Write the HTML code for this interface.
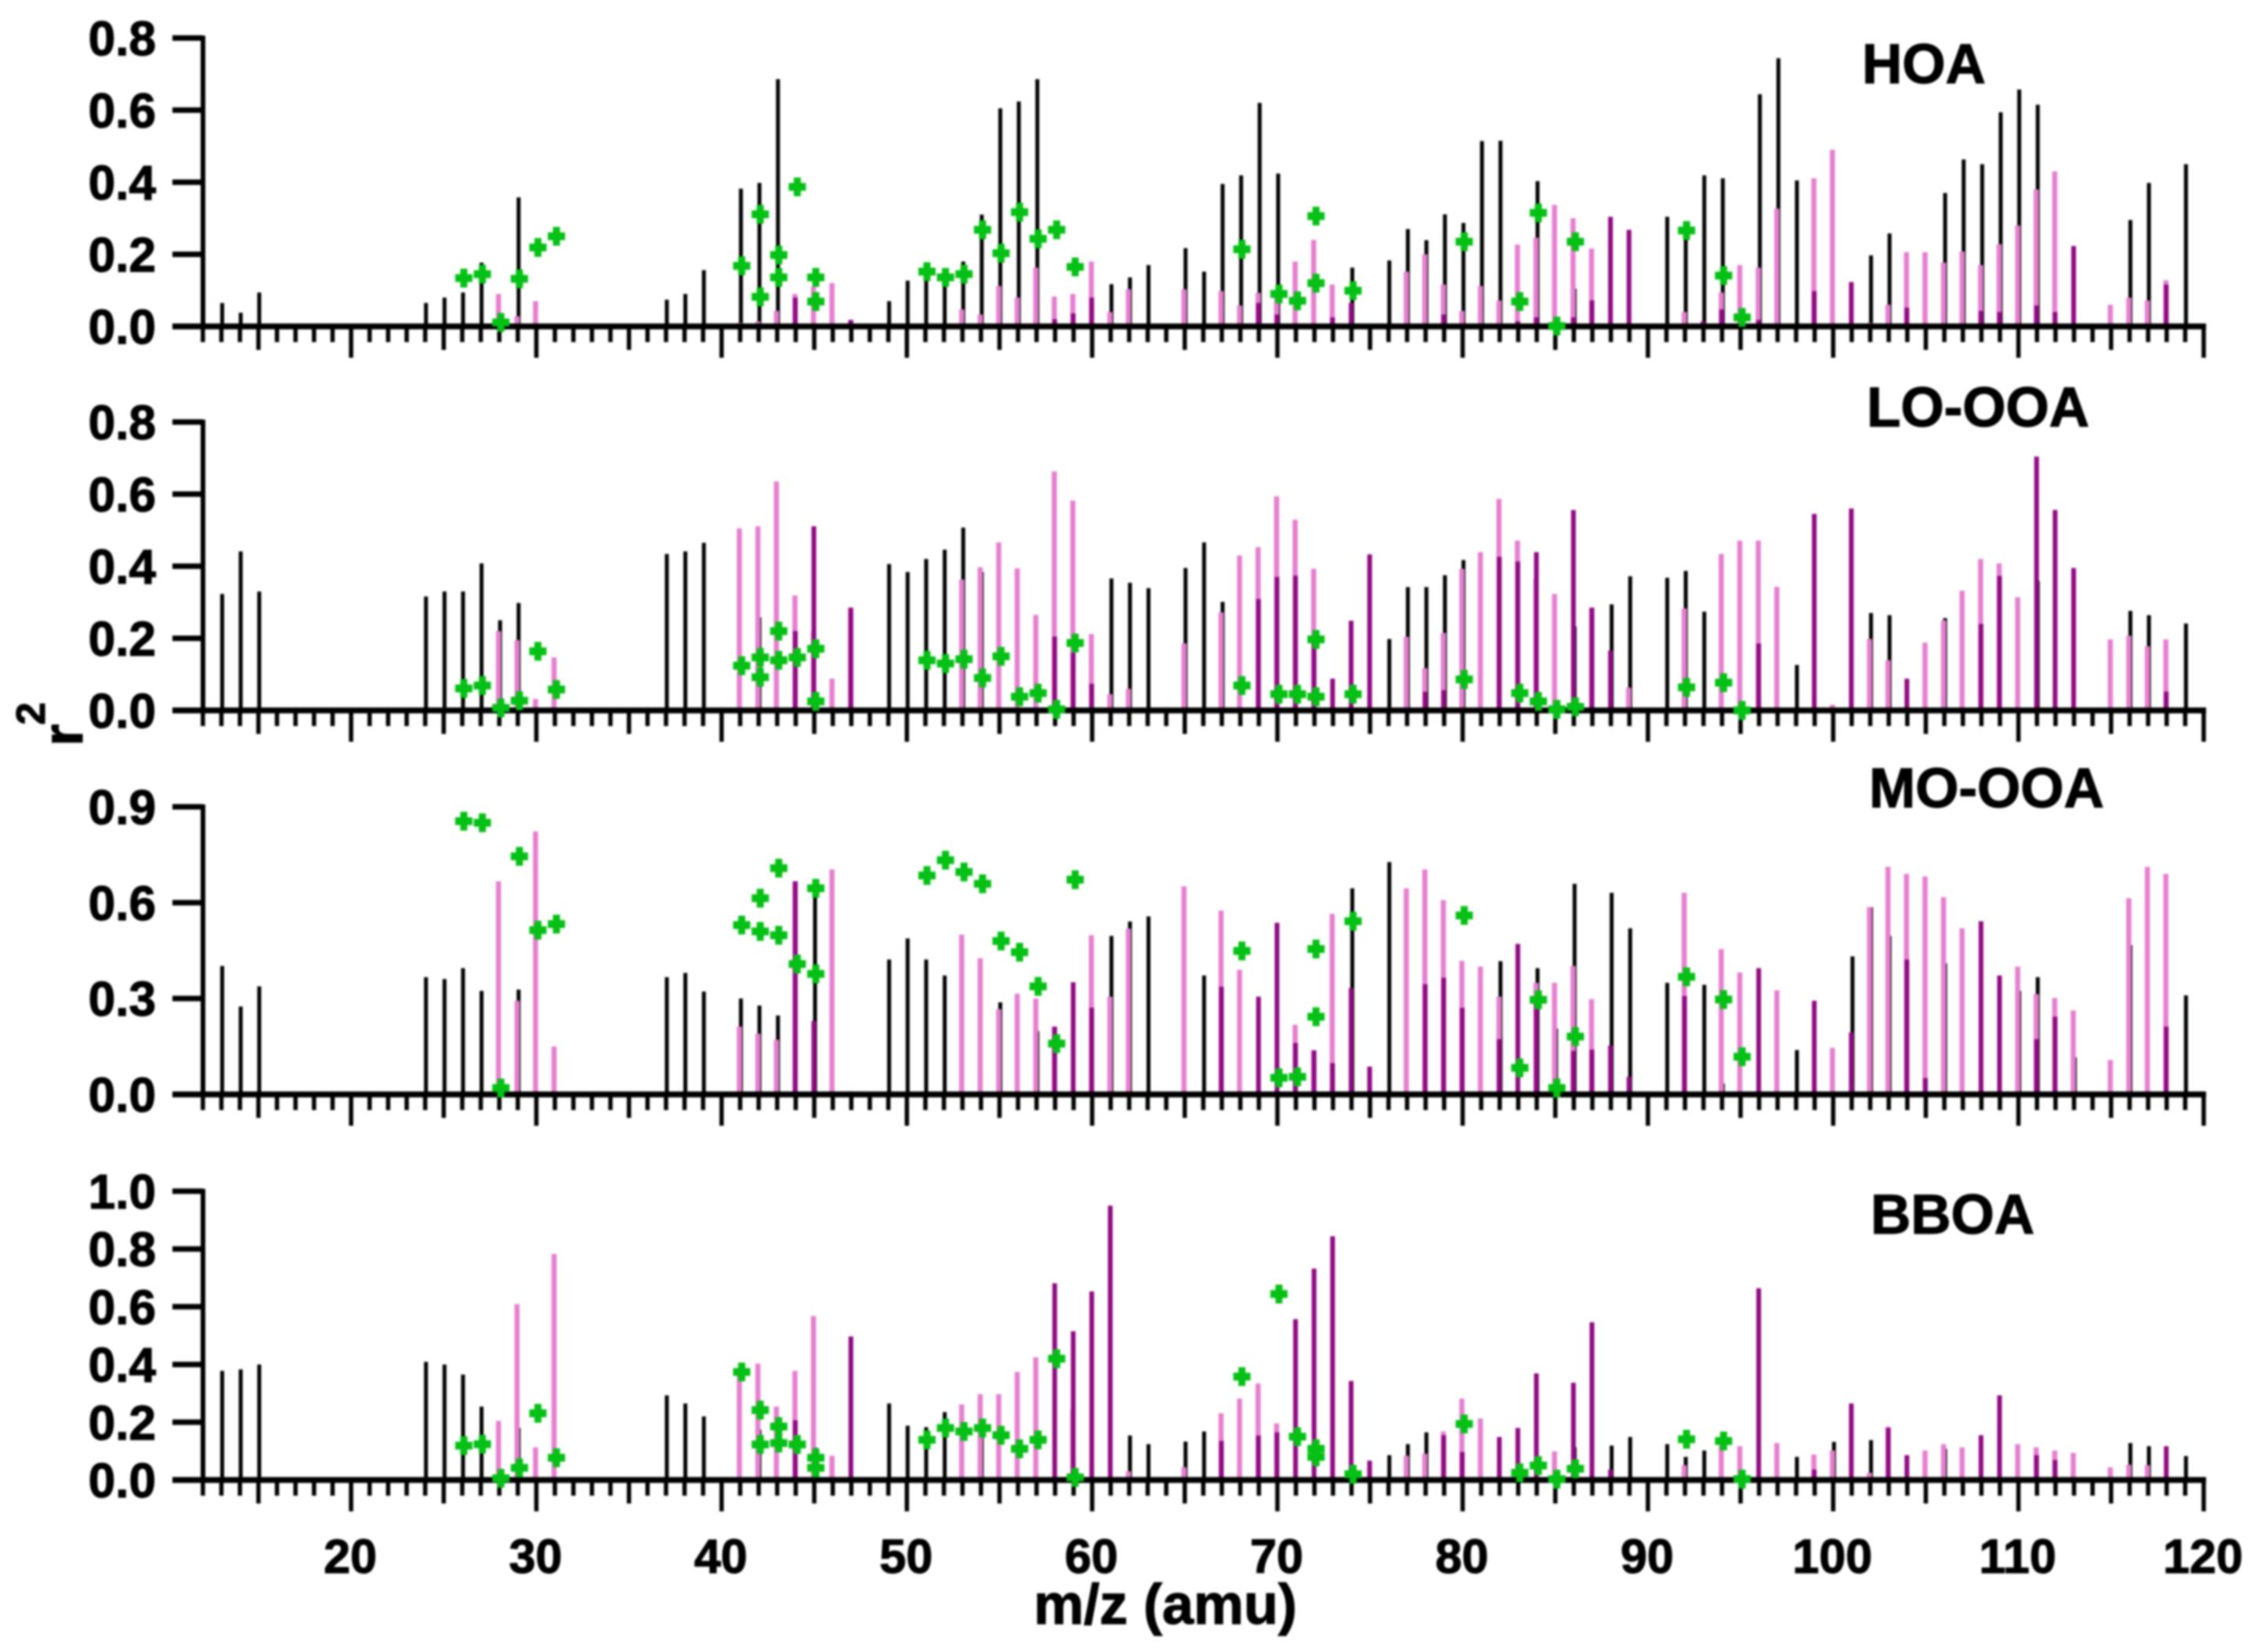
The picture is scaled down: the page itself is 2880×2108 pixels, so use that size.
<!DOCTYPE html>
<html lang="en">
<head>
<meta charset="utf-8">
<title>r2 versus m/z for HOA, LO-OOA, MO-OOA and BBOA</title>
<style>
html,body{margin:0;padding:0;background:#fff;width:2880px;height:2108px;overflow:hidden}
svg{display:block;filter:blur(1.3px)}
text{font-family:"Liberation Sans",Arial,sans-serif;font-weight:700;fill:#000;stroke:#000;stroke-width:1.2px}
</style>
</head>
<body>
<svg id="chart" width="2880" height="2108" viewBox="0 0 2880 2108" xmlns="http://www.w3.org/2000/svg"></svg>
<script>
const mzValues = [
13,14,15,
24,25,26,27,28,29,30,31,
37,38,39,
41,42,43,44,45,46,47,
49,50,51,52,53,54,55,56,57,58,59,60,61,62,63,
65,66,67,68,69,70,71,72,73,74,75,76,77,78,79,80,81,82,83,84,85,86,87,88,89,
91,92,93,94,95,96,97,98,99,100,101,102,103,104,105,106,107,108,109,110,111,112,113,
115,116,117,118,119];

const hoaBlack = [
.065,.038,.094,
.065,.08,.094,.177,0,.358,0,0,
.074,.09,.156,
.382,.398,.686,0,0,0,0,
.07,.127,.15,.137,.18,.31,.605,.624,.686,0,0,0,.117,.136,.17,
.217,.152,.395,.419,.62,.424,0,0,0,.163,0,.183,.27,.239,.311,.287,.514,.515,0,.403,0,.105,0,0,0,
.304,.265,.419,.411,0,.644,.744,.405,0,0,0,.197,.258,0,0,.37,.463,.45,.594,.657,.615,0,0,
0,.295,.398,0,.45];
const hoaPink = [
0,0,0,
0,0,0,0,.09,.028,.07,.007,
0,0,0,
.01,.014,.043,.09,.11,.12,.018,
0,0,0,0,.047,.033,.112,.08,.163,.083,.09,.18,.04,.103,0,
.103,0,.098,.058,.093,.08,.18,.24,.116,0,0,0,.152,.2,.116,.043,.112,.072,.227,.246,.337,.3,.216,0,0,
0,.04,0,.094,.17,.163,.327,0,.411,.49,0,.01,.06,.206,.206,.177,.208,.17,.228,.28,.38,.43,0,
.06,.08,.072,.128,0];
const hoaPurple = [
0,0,0,
0,0,0,0,0,0,0,0,
0,0,0,
0,0,0,.08,0,0,.018,
0,0,0,0,0,0,0,0,0,.02,.036,.08,0,0,0,
0,0,0,0,.065,.033,0,0,.025,.065,0,0,0,0,.033,0,0,0,.014,.025,0,.025,.072,.304,.268,
0,0,.014,.047,0,.018,0,0,.098,0,.123,0,0,.052,0,0,0,.043,.04,0,.058,.04,.223,
0,0,0,.116,0];

const loBlack = [
.323,.441,.33,
.316,.33,.33,.408,.25,.298,0,0,
.434,.441,.465,
0,.258,0,0,0,0,0,
.406,.384,.42,.446,.507,.384,0,0,0,0,0,0,.366,.354,.339,
.395,.466,.301,0,0,0,0,0,0,0,0,.198,.342,.342,.375,.417,0,0,0,0,0,.233,0,.294,.372,
.368,.387,.274,0,0,0,0,.126,0,0,0,.27,.264,0,0,.256,0,0,0,0,.359,0,0,
0,.276,.264,0,.241];
const loPink = [
0,0,0,
0,0,0,0,.22,.195,.032,.147,
0,0,0,
.505,.511,.635,.319,.218,.088,.285,
0,0,0,0,.363,.397,.466,.394,.265,.663,.582,.212,.045,.06,0,
.186,0,.272,.43,.453,.594,.529,.393,0,0,0,0,.204,.117,.215,.393,.439,.587,.471,.366,.323,0,.285,0,.063,
0,.283,0,.434,.471,.471,.343,0,0,.016,0,.198,.139,0,.188,.25,.332,.42,.408,.314,0,0,0,
.197,.207,.178,.197,0];
const loPurple = [
0,0,0,
0,0,0,0,0,0,0,0,
0,0,0,
0,0,0,.22,.511,0,.285,
0,0,0,0,0,0,0,0,0,.205,.16,.074,0,0,0,
0,0,0,0,.309,.37,.374,.2,.088,.249,.433,0,0,.052,.056,0,0,.426,.413,.439,0,.556,.285,.166,0,
0,0,0,0,0,.186,0,0,.545,0,.56,0,0,.088,0,0,0,.24,.373,0,.704,.556,.395,
0,0,0,.052,0];

const moBlack = [
.402,.275,.338,
.367,.361,.395,.324,0,.328,0,0,
.367,.38,.322,
.3,.278,.247,0,.623,0,0,
.422,.488,.422,.372,0,0,.288,0,.198,0,0,0,.496,.541,.557,
0,.372,0,0,0,0,0,0,0,.645,0,.727,0,0,0,0,0,.417,0,.395,.206,.659,0,.631,.52,
.349,0,.343,.034,0,0,0,.139,0,0,.432,.586,.496,0,0,.41,0,0,0,.324,.367,0,.116,
0,.467,0,0,.31];
const moPink = [
0,0,0,
0,0,0,0,.667,.293,.823,.15,
0,0,0,
.212,.19,.171,.667,0,.704,.01,
0,0,0,0,.5,.426,.267,.315,.3,.212,0,.498,.306,.519,0,
.651,0,.575,.39,0,0,.218,.138,.565,0,0,0,.645,.704,.608,.418,.4,.306,0,.349,.349,.402,.298,0,0,
0,.631,0,.455,.382,0,.326,0,0,.146,0,.586,.712,.69,.682,.617,.52,0,0,.4,.314,.302,.263,
.108,.614,.712,.69,0];
const moPurple = [
0,0,0,
0,0,0,0,0,0,0,0,
0,0,0,
0,0,0,.667,.23,0,0,
0,0,0,0,0,0,0,0,0,.212,.351,.271,0,0,0,
0,0,.337,0,.306,.537,.161,.138,.098,.333,.087,0,0,.345,.365,.271,0,.173,.471,.288,0,.136,.14,.153,.055,
0,.308,0,0,0,.395,0,0,.293,0,.194,0,0,.422,.051,0,0,.542,.372,0,.173,.243,0,
0,0,0,.212,0];

const bboaBlack = [
.378,.383,.4,
.409,.4,.365,.254,0,.18,0,0,
.293,.265,.22,
0,.174,0,0,.113,0,0,
.265,.188,.183,.235,0,.15,0,0,0,0,0,0,0,.154,.124,
.133,.168,0,0,0,0,0,0,0,0,0,.086,.124,.165,0,0,0,0,0,0,0,.113,0,.119,.149,
.124,.08,.102,0,0,0,0,.08,0,.132,0,.138,0,0,0,.108,0,0,0,0,0,0,0,
0,.128,.117,0,.083];
const bboaPink = [
0,0,0,
0,0,0,0,.205,.609,.113,.783,
0,0,0,
.372,.403,.254,.378,.568,.084,0,
0,0,0,0,.262,.297,.297,.374,.425,0,.246,0,0,.03,0,
.044,0,.231,.282,.334,.196,0,0,0,0,0,0,.084,.091,.168,.282,.213,0,0,0,.099,0,0,0,0,
0,.051,0,.12,.117,0,.128,0,.088,.102,0,.025,.185,0,.102,.124,.113,0,0,.124,.113,.102,.094,
.044,.053,.051,0,0];
const bboaPurple = [
0,0,0,
0,0,0,0,0,0,0,0,
0,0,0,
0,0,0,.207,0,0,.497,
0,0,0,0,0,0,0,0,0,.681,.515,.653,.95,0,0,
0,0,.135,0,.154,.165,.557,.732,.844,.343,.067,0,0,0,.155,.097,0,.149,.18,.369,0,.337,.546,.036,.009,
0,0,0,0,0,.664,0,0,.036,0,.265,0,.18,.086,0,0,0,.155,.293,0,.086,.069,0,
0,0,0,.117,0];

const markerMz = [26,27,28,29,30,31,41,42,42,43,43,44,45,45,51,52,53,54,55,56,57,58,59,68,70,71,72,72,74,80,83,84,85,86,92,94,95];
const hoaMarkers = [.134,.145,.011,.132,.219,.25,.168,.311,.082,.198,.136,.387,.136,.069,.152,.136,.145,.268,.203,.317,.243,.268,.165,.214,.09,.071,.306,.12,.099,.235,.069,.315,.001,.235,.266,.141,.025];
const loMarkers = [.061,.069,.007,.027,.164,.058,.124,.147,.092,.22,.139,.147,.171,.025,.139,.13,.142,.09,.15,.038,.048,.003,.187,.069,.045,.045,.197,.038,.045,.086,.048,.025,.003,.01,.064,.077,0];
const moMarkers = [.855,.85,.02,.745,.514,.533,.53,.614,.51,.708,.498,.408,.645,.377,.685,.733,.696,.659,.48,.445,.338,.159,.672,.449,.052,.055,.455,.243,.542,.56,.083,.296,.02,.181,.368,.297,.118];
const bboaMarkers = [.119,.124,.006,.042,.231,.077,.374,.242,.123,.185,.128,.123,.077,.042,.139,.18,.168,.18,.155,.108,.139,.42,.009,.358,.644,.15,.108,.08,.02,.194,.025,.05,.003,.039,.141,.135,.003];

const hoaTicks = ["0.0","0.2","0.4","0.6","0.8"];
const loTicks = ["0.0","0.2","0.4","0.6","0.8"];
const moTicks = ["0.0","0.3","0.6","0.9"];
const bboaTicks = ["0.0","0.2","0.4","0.6","0.8","1.0"];
const xTickLabels = ["20","30","40","50","60","70","80","90","100","110","120"];

const NS = "http://www.w3.org/2000/svg";
const svg = document.getElementById("chart");
const COLORS = {black:"#000000", pink:"#e57fcf", purple:"#8e0a80", green:"#05c015"};

function xScale(mz){ return 448 + (mz - 20) * 23.64; }

function make(tag, attrs, parent){
  const el = document.createElementNS(NS, tag);
  for (const k in attrs) el.setAttribute(k, attrs[k]);
  parent.appendChild(el);
  return el;
}

function drawSticks(group, values, color, width, offset, name, yScale){
  values.forEach(function(v, i){
    if (!v) return;
    const x = xScale(mzValues[i]) + offset;
    const stick = make("line", {x1:x, x2:x, y1:yScale(0), y2:yScale(v), stroke:color, "stroke-width":width}, group);
    
    
  });
}

function drawPanel(title, titleX, titleY, top, base, ticks, black, pink, purple, markers){
  const maxV = parseFloat(ticks[ticks.length - 1]);
  const yScale = function(v){ return base - (v / maxV) * (base - top); };
  const slug = title.toLowerCase();

  const g = make("g", {}, svg);
  
  

  drawSticks(g, black, COLORS.black, 5, 1, slug + '-black-stick', yScale);
  drawSticks(g, pink, COLORS.pink, 6.5, -1, slug + '-pink-stick', yScale);
  drawSticks(g, purple, COLORS.purple, 6, -0.5, slug + '-purple-stick', yScale);

  // y axis
  const yAxis = make("line", {x1:259, x2:259, y1:top - 3, y2:base, stroke:"#000", "stroke-width":6}, g);
  
  
  ticks.forEach(function(label){
    const v = parseFloat(label);
    const y = yScale(v);
    const tick = make("line", {x1:220, x2:259, y1:y, y2:y, stroke:"#000", "stroke-width":7}, g);
    
    
    const t = make("text", {x:199, y:y + 22, "text-anchor":"end", "font-size":62}, g);
    t.textContent = label;
    
    
  });

  // x axis
  const xAxis = make("line", {x1:220, x2:xScale(120) + 3, y1:base, y2:base, stroke:"#000", "stroke-width":7.5}, g);
  
  
  for (let m = 12; m <= 120; m++){
    const len = m % 10 === 0 ? 40 : (m % 5 === 0 ? 30 : 20);
    const x = xScale(m);
    const tick = make("line", {x1:x, x2:x, y1:base, y2:base + len, stroke:"#000", "stroke-width":5.5}, g);
    
    
  }

  // green markers
  markers.forEach(function(v, i){
    const x = xScale(markerMz[i]) + 2;
    const y = yScale(v);
    const m = make("g", {}, g);
    
    
    make("rect", {x:x - 4.5, y:y - 12, width:9, height:24, fill:COLORS.green}, m);
    make("rect", {x:x - 11, y:y - 5, width:22, height:10, fill:COLORS.green}, m);
  });

  const label = make("text", {x:titleX, y:titleY, "font-size":71}, g);
  label.textContent = title;
  
  
}

drawPanel("HOA", 2376, 106, 48.5, 416.5, hoaTicks, hoaBlack, hoaPink, hoaPurple, hoaMarkers);
drawPanel("LO-OOA", 2382, 544, 538.5, 906.5, loTicks, loBlack, loPink, loPurple, loMarkers);
drawPanel("MO-OOA", 2385, 1030, 1029.5, 1396.5, moTicks, moBlack, moPink, moPurple, moMarkers);
drawPanel("BBOA", 2387, 1574, 1520, 1888.5, bboaTicks, bboaBlack, bboaPink, bboaPurple, bboaMarkers);

xTickLabels.forEach(function(label){
  const t = make("text", {x:xScale(parseFloat(label)) - 1, y:2007, "text-anchor":"middle", "font-size":61}, svg);
  t.textContent = label;
  
  
});

const xTitle = make("text", {x:1487, y:2072, "text-anchor":"middle", "font-size":72}, svg);
xTitle.textContent = "m/z (amu)";



const yTitleR = make("text", {transform:"translate(105,952) rotate(-90)", "font-size":72}, svg);
yTitleR.textContent = "r";



const yTitleExp = make("text", {transform:"translate(57,925) rotate(-90)", "font-size":52}, svg);
yTitleExp.textContent = "2";


</script>
</body>
</html>
